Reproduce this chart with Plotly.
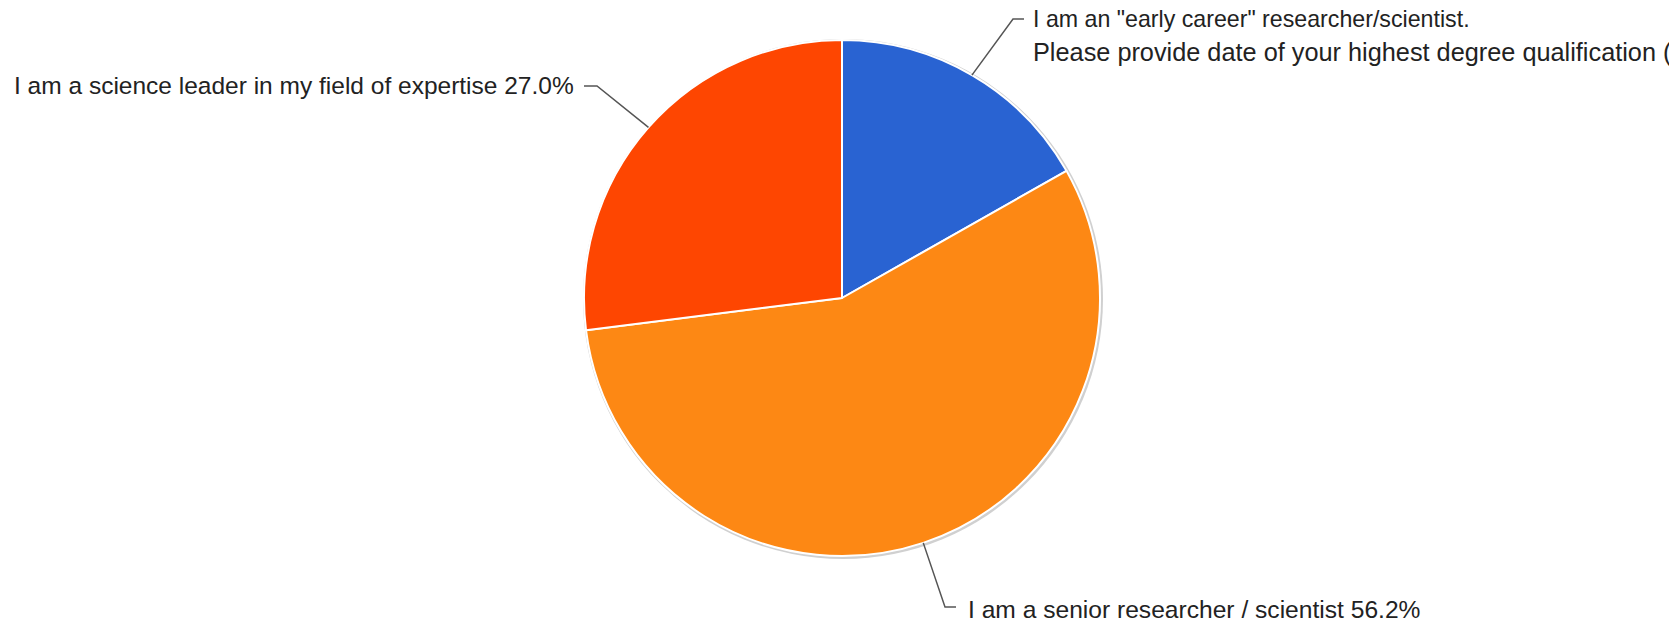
import math
import plotly.graph_objects as go

# ---- data ----
categories = [
    'I am an "early career" researcher/scientist.',
    "I am a senior researcher / scientist",
    "I am a science leader in my field of expertise",
]
values = [16.8, 56.2, 27.0]
colors = ["#2963D2", "#FD8814", "#FE4601"]
label_lines = [
    ['I am an "early career" researcher/scientist.',
     "Please provide date of your highest degree qualification (e.g. year) 16.8%"],
    ["I am a senior researcher / scientist 56.2%"],
    ["I am a science leader in my field of expertise 27.0%"],
]

# ---- layout constants (pixels) ----
W, H = 1669, 623
CX, CY, R = 842, 298, 258
label_pos = [
    dict(elbow=(1013, 19), end=(1024, 19), tx=1031, ty=[19, 52], size=[23.2, 25.3], anchor="left"),
    dict(elbow=(945, 607), end=(956, 607), tx=966, ty=[609], size=[24.6], anchor="left"),
    dict(elbow=(597, 86), end=(584, 86), tx=576, ty=[86], size=[24.5], anchor="right"),
]

def px(x):
    return x / W

def py(y):
    return 1 - y / H

fig = go.Figure()
fig.add_trace(go.Pie(
    labels=categories,
    values=values,
    sort=False,
    direction="clockwise",
    rotation=0,
    marker=dict(colors=colors, line=dict(color="white", width=2)),
    textinfo="none",
    showlegend=False,
    domain=dict(x=[px(CX - R), px(CX + R)], y=[py(CY + R), py(CY - R)]),
))

shapes = []
# soft shadow behind pie
shapes.append(dict(type="circle", xref="paper", yref="paper", layer="below",
                   x0=px(CX - R - 1), x1=px(CX + R + 3),
                   y0=py(CY + R + 3), y1=py(CY - R - 1),
                   fillcolor="#d0d0d0", line=dict(width=0)))

annotations = []
total = sum(values)
cum = 0.0
for i, v in enumerate(values):
    mid = (cum + v / 2) / total * 2 * math.pi
    cum += v
    sx = CX + R * math.sin(mid)
    sy = CY - R * math.cos(mid)
    lp = label_pos[i]
    ex, ey = lp["elbow"]
    fx, fy = lp["end"]
    shapes.append(dict(type="path", xref="paper", yref="paper",
                       path=f"M {px(sx)},{py(sy)} L {px(ex)},{py(ey)} L {px(fx)},{py(fy)}",
                       line=dict(color="#555555", width=1.5)))
    for line_txt, ty, fs in zip(label_lines[i], lp["ty"], lp["size"]):
        annotations.append(dict(x=px(lp["tx"]), y=py(ty), xref="paper", yref="paper",
                                text=line_txt, showarrow=False,
                                xanchor=lp["anchor"], yanchor="middle",
                                font=dict(family="Liberation Sans, Arial", size=fs, color="#222222")))

fig.update_layout(
    width=W, height=H,
    margin=dict(l=0, r=0, t=0, b=0),
    paper_bgcolor="white", plot_bgcolor="white",
    shapes=shapes, annotations=annotations,
)

fig.write_html("out.html", config={"displayModeBar": False},
               post_script="document.body.style.margin='0';document.body.style.overflow='hidden';")
